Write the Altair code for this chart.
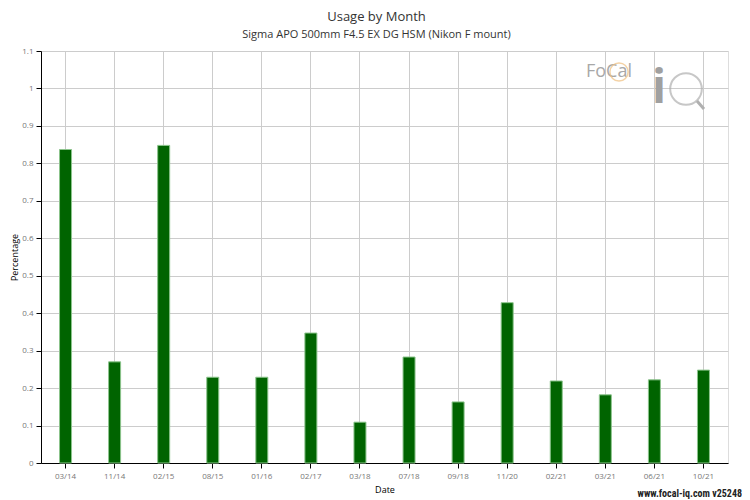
import altair as alt
import pandas as pd

months = ["03/14", "11/14", "02/15", "08/15", "01/16", "02/17", "03/18",
          "07/18", "09/18", "11/20", "02/21", "03/21", "06/21", "10/21"]
usage = [0.837, 0.270, 0.848, 0.229, 0.229, 0.347, 0.109,
         0.283, 0.163, 0.428, 0.219, 0.182, 0.222, 0.248]
y_ticks = [0, 0.1, 0.2, 0.3, 0.4, 0.5, 0.6, 0.7, 0.8, 0.9, 1.0, 1.1]

title_text = "Usage by Month"
subtitle_text = "Sigma APO 500mm F4.5 EX DG HSM (Nikon F mount)"
footer_text = "www.focal-iq.com  v25248"

df = pd.DataFrame({"Date": months, "Percentage": usage})
FONT = "Open Sans"
W, H = 687, 412

bars = alt.Chart(df).mark_bar(
    size=12, color="#006400", stroke="#8cc48c", strokeWidth=1
).encode(
    x=alt.X("Date:N", sort=None, title="Date",
            scale=alt.Scale(paddingInner=0, paddingOuter=0),
            axis=alt.Axis(labelAngle=0, grid=True, gridColor="#cccccc",
                          domainColor="#000", tickColor="#000", tickSize=5,
                          labelFontSize=8, labelColor="#777", labelPadding=4,
                          titleFontSize=9, titleFontWeight="normal",
                          titleColor="#000", titlePadding=5, labelFont=FONT,
                          titleFont=FONT)),
    y=alt.Y("Percentage:Q", title="Percentage",
            scale=alt.Scale(domain=[0, 1.1], nice=False),
            axis=alt.Axis(values=y_ticks, format="~g", grid=True,
                          gridColor="#cccccc",
                          domainColor="#000", tickColor="#000", tickSize=5,
                          labelFontSize=8, labelColor="#777", labelPadding=3,
                          titleFontSize=9, titleFontWeight="normal",
                          titleColor="#000", titlePadding=2, labelFont=FONT,
                          titleFont=FONT)),
)

one = alt.Data(values=[{"a": 1}])

logo_text = alt.Chart(one).mark_text(
    text="FoCal", font=FONT, fontSize=18, color="#a8a8a8", align="left",
    baseline="middle"
).encode(x=alt.value(545), y=alt.value(21))

logo_ring = alt.Chart(one).mark_point(
    shape="circle", filled=False, stroke="#f0c080", strokeWidth=1.5, size=330
).encode(x=alt.value(578), y=alt.value(21))

logo_i = alt.Chart(one).mark_text(
    text="i", font=FONT, fontSize=46, fontWeight="bold", color="#a0a0a0",
    align="center", baseline="middle"
).encode(x=alt.value(618), y=alt.value(38))

logo_q = alt.Chart(one).mark_point(
    shape="circle", filled=False, stroke="#b0b0b0", strokeWidth=2, size=1000
).encode(x=alt.value(645), y=alt.value(38))

logo_handle = alt.Chart(one).mark_rule(
    stroke="#b0b0b0", strokeWidth=3
).encode(x=alt.value(656), y=alt.value(50), x2=alt.value(663), y2=alt.value(58))

footer = alt.Chart(one).mark_text(
    text=footer_text, font="Liberation Sans Narrow, Roboto Condensed, Roboto",
    fontSize=10, fontWeight="bold", color="#222", align="right",
    baseline="middle"
).encode(x=alt.value(701), y=alt.value(443))

chart = alt.layer(
    bars, logo_text, logo_ring, logo_i, logo_q, logo_handle, footer
).properties(
    width=W, height=H,
    title=alt.TitleParams(
        text=title_text, subtitle=subtitle_text, font=FONT, subtitleFont=FONT,
        fontSize=13, subtitleFontSize=11, fontWeight="normal",
        color="#333", subtitleColor="#333", anchor="middle", dx=-8,
        offset=7, subtitlePadding=5),
    autosize=alt.AutoSizeParams(type="none"),
    padding={"left": 33, "top": 43, "right": 14, "bottom": 40},
).configure_view(stroke=None).configure(background="white")

chart.save("out.html", embed_options={"renderer": "svg", "actions": False})
